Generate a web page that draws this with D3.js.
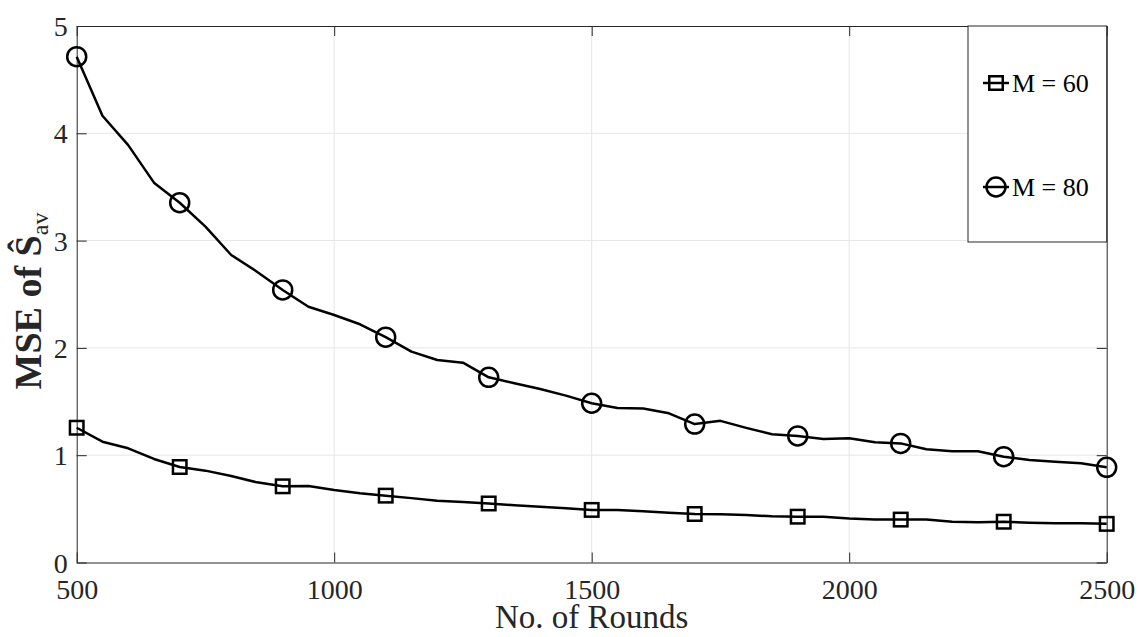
<!DOCTYPE html>
<html>
<head>
<meta charset="utf-8">
<script src="https://cdn.jsdelivr.net/npm/d3@7"></script>
<style>
  body { margin: 0; background: #fff; }
  svg { display: block; }
</style>
</head>
<body>
<div id="chart"></div>
<script>
// rounds on the x axis
const rounds = [500, 550, 600, 650, 700, 750, 800, 850, 900, 950,
  1000, 1050, 1100, 1150, 1200, 1250, 1300, 1350, 1400, 1450,
  1500, 1550, 1600, 1650, 1700, 1750, 1800, 1850, 1900, 1950,
  2000, 2050, 2100, 2150, 2200, 2250, 2300, 2350, 2400, 2450, 2500];

// MSE for M = 60 (squares)
const mse60 = [1.256, 1.126, 1.064, 0.965, 0.890, 0.856, 0.806, 0.747, 0.710, 0.713,
  0.676, 0.645, 0.623, 0.600, 0.576, 0.564, 0.550, 0.533, 0.520, 0.505,
  0.490, 0.490, 0.477, 0.464, 0.452, 0.450, 0.443, 0.430, 0.427, 0.427,
  0.410, 0.400, 0.400, 0.400, 0.380, 0.375, 0.380, 0.370, 0.365, 0.365, 0.360];

// MSE for M = 80 (circles)
const mse80 = [4.714, 4.164, 3.890, 3.540, 3.353, 3.130, 2.866, 2.710, 2.540, 2.384,
  2.307, 2.220, 2.100, 1.965, 1.887, 1.862, 1.726, 1.670, 1.617, 1.555,
  1.484, 1.440, 1.435, 1.390, 1.290, 1.320, 1.255, 1.195, 1.180, 1.150,
  1.157, 1.120, 1.110, 1.055, 1.036, 1.037, 0.986, 0.955, 0.940, 0.925, 0.887];

// rounds where a marker is drawn
const markerRounds = [500, 700, 900, 1100, 1300, 1500, 1700, 1900, 2100, 2300, 2500];

const xTicks = [500, 1000, 1500, 2000, 2500];
const yTicks = [0, 1, 2, 3, 4, 5];
const seriesNames = ["M = 60", "M = 80"];

let w = 1141, h = 637;
let margin = {top: 26, right: 34.3, bottom: 74.5, left: 76.7};
let iw = w - margin.left - margin.right;
let ih = h - margin.top - margin.bottom;
var axisColor = "#262626";
var gridColor = "#e6e6e6";
var font = "'Liberation Serif', 'Times New Roman', serif";

let svg = d3.select("#chart").append("svg").attr("width", w).attr("height", h);
let g = svg.append("g").attr("transform", "translate(" + margin.left + "," + margin.top + ")");

let x = d3.scaleLinear().domain([500, 2500]).range([0, iw]);
let y = d3.scaleLinear().domain([0, 5]).range([ih, 0]);

// grid
g.append("g").selectAll("line").data(xTicks.slice(1, -1)).enter().append("line")
    .attr("x1", d => x(d)).attr("x2", d => x(d))
    .attr("y1", 0).attr("y2", ih)
    .attr("stroke", gridColor).attr("stroke-width", 1);
g.append("g").selectAll("line").data(yTicks.slice(1, -1)).enter().append("line")
    .attr("x1", 0).attr("x2", iw)
    .attr("y1", d => y(d)).attr("y2", d => y(d))
    .attr("stroke", gridColor).attr("stroke-width", 1);

// axes, ticks pointing inward
function styleAxis(sel) {
    sel.attr("font-family", font).attr("font-size", 28);
    sel.select(".domain").attr("stroke", axisColor).attr("stroke-width", 1);
    sel.selectAll(".tick line").attr("stroke", axisColor);
    sel.selectAll("text").attr("font-family", font).attr("font-size", "28px").attr("fill", axisColor);
}

let xAxis = g.append("g").attr("transform", "translate(0," + ih + ")")
    .call(d3.axisBottom(x).tickValues(xTicks).tickSizeInner(-10).tickSizeOuter(0).tickFormat(d3.format("d")));
styleAxis(xAxis);
xAxis.selectAll("text").attr("y", 36).attr("dy", 0);

let xTop = g.append("g")
    .call(d3.axisTop(x).tickValues(xTicks).tickSizeInner(-10).tickSizeOuter(0).tickFormat(""));
styleAxis(xTop);

let yAxis = g.append("g")
    .call(d3.axisLeft(y).tickValues(yTicks).tickSizeInner(-10).tickSizeOuter(0).tickFormat(d3.format("d")));
styleAxis(yAxis);
yAxis.selectAll("text").attr("x", -9).attr("dy", "0.34em");

let yRight = g.append("g").attr("transform", "translate(" + iw + ",0)")
    .call(d3.axisRight(y).tickValues(yTicks).tickSizeInner(-10).tickSizeOuter(0).tickFormat(""));
styleAxis(yRight);

// series
let line = d3.line().x(d => x(d[0])).y(d => y(d[1]));
let series = [
    {name: seriesNames[0], values: rounds.map((r, i) => [r, mse60[i]]), marker: "square"},
    {name: seriesNames[1], values: rounds.map((r, i) => [r, mse80[i]]), marker: "circle"}
];

function drawMarker(sel, type, cx, cy) {
    if (type === "square") {
        sel.append("rect")
            .attr("x", cx - 6.75).attr("y", cy - 6.75)
            .attr("width", 13.5).attr("height", 13.5)
            .attr("fill", "none").attr("stroke", "#000").attr("stroke-width", 2.5);
    } else {
        sel.append("circle")
            .attr("cx", cx).attr("cy", cy).attr("r", 9.5)
            .attr("fill", "none").attr("stroke", "#000").attr("stroke-width", 2.5);
    }
}

let plot = g.append("g");
series.forEach(function(s) {
    plot.append("path").datum(s.values)
        .attr("d", line)
        .attr("fill", "none").attr("stroke", "#000").attr("stroke-width", 2.5)
        .attr("stroke-linejoin", "round");
    s.values.filter(d => markerRounds.includes(d[0])).forEach(function(d) {
        drawMarker(plot, s.marker, x(d[0]), y(d[1]));
    });
});

// legend
let legX = 968 - margin.left, legY = 0, legW = iw - legX, legH = 242 - margin.top;
let leg = g.append("g");
leg.append("rect")
    .attr("x", legX).attr("y", legY).attr("width", legW).attr("height", legH)
    .attr("fill", "#fff").attr("stroke", axisColor).attr("stroke-width", 1);
let legRows = [83, 187];
series.forEach(function(s, i) {
    let cy = legRows[i] - margin.top;
    leg.append("line")
        .attr("x1", 983 - margin.left).attr("x2", 1009 - margin.left)
        .attr("y1", cy).attr("y2", cy)
        .attr("stroke", "#000").attr("stroke-width", 2.5);
    drawMarker(leg, s.marker, 996 - margin.left, cy);
    leg.append("text")
        .attr("x", 1012 - margin.left).attr("y", cy)
        .attr("dy", "0.34em")
        .attr("font-family", font).attr("font-size", "26px")
        .attr("fill", "#000")
        .text(s.name);
});

// axis labels
svg.append("text")
    .attr("x", margin.left + iw / 2).attr("y", 628)
    .attr("text-anchor", "middle")
    .attr("font-family", font).attr("font-size", "33px")
    .attr("fill", axisColor)
    .text("No. of Rounds");

let yl = svg.append("text")
    .attr("transform", "translate(40.5," + 301 + ") rotate(-90)")
    .attr("text-anchor", "middle")
    .attr("font-family", font).attr("font-size", "38px")
    .attr("font-weight", "bold")
    .attr("fill", axisColor);
yl.append("tspan").text("MSE of Ŝ");
yl.append("tspan").attr("font-size", "24px").attr("font-weight", "normal").attr("dy", "0.3em").text("av");
</script>
</body>
</html>
